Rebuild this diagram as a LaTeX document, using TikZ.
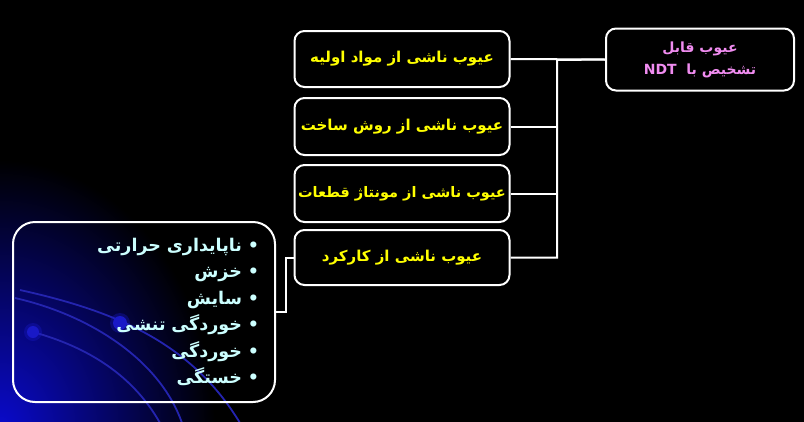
\documentclass[tikz,border=0pt]{standalone}
\usepackage{fontspec}
\usepackage{tikz}
\newfontfamily\farsifont[Script=Arabic]{DejaVu Sans}
\TeXXeTstate=1
\definecolor{causeyellow}{RGB}{255,255,0}
\definecolor{rootpink}{RGB}{240,140,240}
\definecolor{listcyan}{RGB}{204,255,255}
\definecolor{arcblue}{RGB}{36,36,175}
\definecolor{glowblue}{RGB}{10,10,205}
\tikzstyle{causebox} = [draw=white,line width=2pt,rounded corners=10pt,inner sep=1pt,minimum width=215pt,minimum height=56pt,text=causeyellow,font=\farsifont\bfseries\fontsize{15}{18}\selectfont]
\tikzstyle{link} = [draw=white,line width=2pt]
\tikzstyle{swirl} = [draw=arcblue,line width=1.8pt]
\tikzstyle{blob} = [fill=arcblue!70!blue]

\begin{document}
\begin{tikzpicture}[x=1pt,y=-1pt]
            \useasboundingbox (0,0) rectangle (804,421);
            \fill[black] (-2,-2) rectangle (806,423);
            \begin{scope}
                \clip (0,0) rectangle (804,421);
                \shade[inner color=glowblue,outer color=black] (0,430) circle[x radius=215,y radius=270];
            \end{scope}
            \draw[swirl] (20,290) .. controls (110,310) and (190,340) .. (240,423);
            \draw[swirl] (15,298) .. controls (90,315) and (160,360) .. (182,423);
            \draw[swirl] (33,332) .. controls (80,345) and (130,370) .. (160,423);
            \fill[blob,opacity=0.35] (120,323) circle (10);
            \fill[blob] (120,323) circle (7);
            \fill[blob,opacity=0.35] (33,332) circle (9);
            \fill[blob] (33,332) circle (6);

            \node[causebox] (root) at (700,59.5) [minimum width=188pt,minimum height=62pt,text=rootpink,align=center,font=\farsifont\bfseries\fontsize{14}{22}\selectfont]
                {\beginR عیوب قابل\endR\\\beginR تشخیص با \ \beginL NDT\endL\endR};
            \node[causebox] (material) at (402,59) {\beginR عیوب ناشی از مواد اولیه\endR};
            \node[causebox] (method) at (402,126.5) [minimum height=57pt] {\beginR عیوب ناشی از روش ساخت\endR};
            \node[causebox] (assembly) at (402,193.5) [minimum height=57pt,font=\farsifont\bfseries\fontsize{14.5}{18}\selectfont] {\beginR عیوب ناشی از مونتاژ قطعات\endR};
            \node[causebox] (service) at (402,257.5) [minimum height=55pt] {\beginR عیوب ناشی از کارکرد\endR};
            \node[causebox] (modes) at (144,312) [minimum width=262pt,minimum height=180pt,rounded corners=22pt,text=listcyan,text width=230pt,align=right,font=\farsifont\bfseries\fontsize{17.5}{26.5}\selectfont]
                {\beginR• ناپایداری حرارتی\endR\\
                 \beginR• خزش\endR\\
                 \beginR• سایش\endR\\
                 \beginR• خوردگی تنشی\endR\\
                 \beginR• خوردگی\endR\\
                 \beginR• خستگی\endR};

            \coordinate (trunk) at (557,60);
            \draw[link] (material.east) -- (root.west);
            \draw[link] (root.west) -- (trunk) |- (service.east);
            \draw[link] (method.east) -- (method.east -| trunk);
            \draw[link] (assembly.east) -- (assembly.east -| trunk);
            \draw[link] (modes.east) -- ++(10,0) |- (service.west);
        \end{tikzpicture}
\end{document}
